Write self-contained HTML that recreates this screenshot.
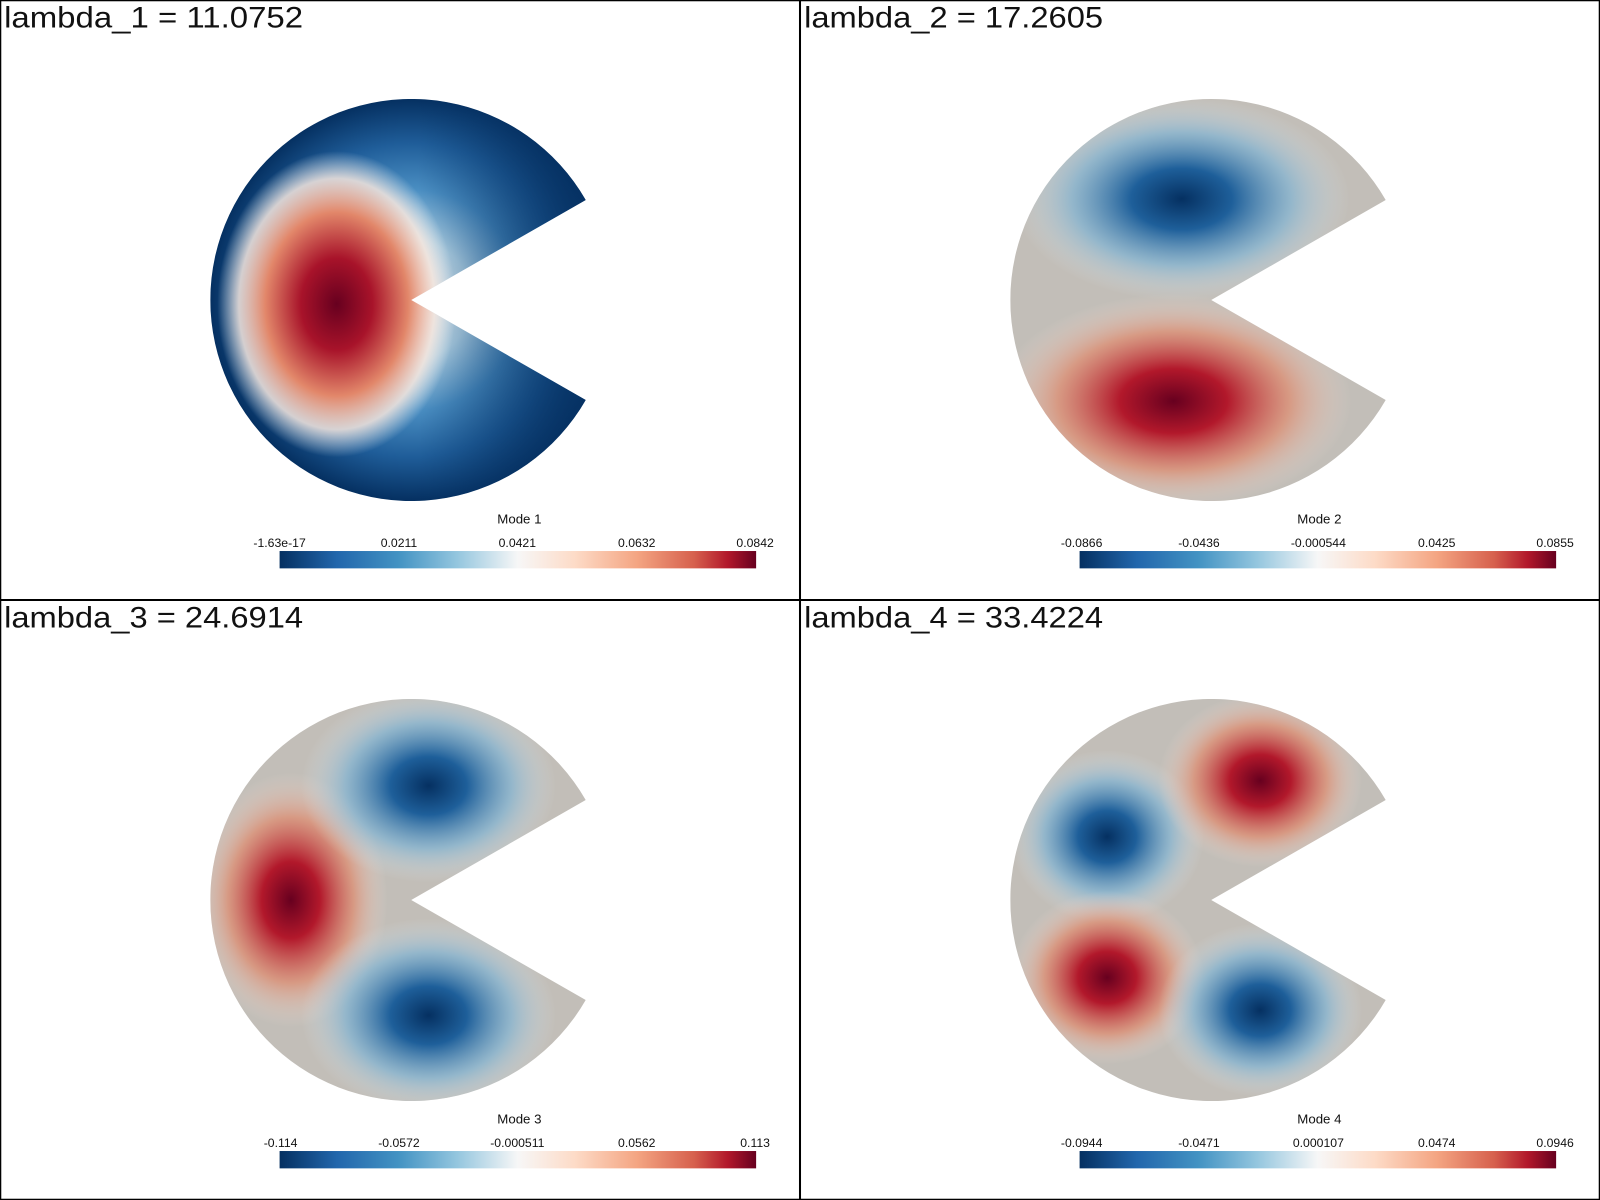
<!DOCTYPE html>
<html><head><style>html,body{margin:0;padding:0;background:#fff}svg{display:block}</style></head><body>
<svg width="1600" height="1200" viewBox="0 0 1568 1176" xmlns="http://www.w3.org/2000/svg" font-family="Liberation Sans, sans-serif">
<defs>
<linearGradient id="cb" x1="0" x2="1" y1="0" y2="0">
<stop offset="0" stop-color="#053061"/><stop offset="0.12" stop-color="#2166ac"/><stop offset="0.25" stop-color="#4393c3"/><stop offset="0.37" stop-color="#92c5de"/><stop offset="0.5" stop-color="#f7f7f7"/><stop offset="0.62" stop-color="#fddbc7"/><stop offset="0.75" stop-color="#f4a582"/><stop offset="0.87" stop-color="#d6604d"/><stop offset="0.94" stop-color="#b2182b"/><stop offset="1" stop-color="#67001f"/>
</linearGradient>
<radialGradient id="m1" gradientUnits="userSpaceOnUse" cx="403" cy="294" r="197">
<stop offset="0" stop-color="#f2f2f2"/><stop offset="0.3" stop-color="#b5d5e6"/><stop offset="0.55" stop-color="#4a8ec2"/><stop offset="0.78" stop-color="#1f5d99"/><stop offset="1" stop-color="#053061"/>
</radialGradient>
<linearGradient id="ov" gradientUnits="userSpaceOnUse" x1="410" y1="0" x2="560" y2="0">
<stop offset="0" stop-color="#0b3a6e" stop-opacity="0"/><stop offset="1" stop-color="#063264" stop-opacity="0.8"/>
</linearGradient>
<radialGradient id="m1r" gradientUnits="userSpaceOnUse" cx="330" cy="298" r="150" gradientTransform="translate(330 298) scale(0.78 1) translate(-330 -298)">
<stop offset="0" stop-color="#67001f"/><stop offset="0.3" stop-color="#a8132a"/><stop offset="0.6" stop-color="#e2876a"/><stop offset="0.82" stop-color="#f6e6dd" stop-opacity="0.85"/><stop offset="1" stop-color="#e8eef2" stop-opacity="0"/>
</radialGradient>
<radialGradient id="red"><stop offset="0" stop-color="#67001f"/><stop offset="0.3" stop-color="#b2182b"/><stop offset="0.65" stop-color="#e08a6d" stop-opacity="0.7"/><stop offset="1" stop-color="#f4e0d6" stop-opacity="0"/></radialGradient>
<radialGradient id="blue"><stop offset="0" stop-color="#053061"/><stop offset="0.3" stop-color="#1e5f9a"/><stop offset="0.65" stop-color="#7fb3d3" stop-opacity="0.7"/><stop offset="1" stop-color="#dde6ec" stop-opacity="0"/></radialGradient>
<clipPath id="c1"><path d="M403 294 L574 196 A197 197 0 1 0 574 392 Z"/></clipPath>
<clipPath id="c2"><path d="M1187 294 L1358 196 A197 197 0 1 0 1358 392 Z"/></clipPath>
<clipPath id="c3"><path d="M403 882 L574 784 A197 197 0 1 0 574 980 Z"/></clipPath>
<clipPath id="c4"><path d="M1187 882 L1358 784 A197 197 0 1 0 1358 980 Z"/></clipPath>
</defs>
<rect width="1568" height="1176" fill="#fff"/>
<g clip-path="url(#c1)"><rect x="200" y="90" width="380" height="410" fill="url(#m1)"/><rect x="200" y="90" width="380" height="410" fill="url(#ov)"/>
<rect x="200" y="90" width="380" height="410" fill="url(#m1r)"/></g>
<g clip-path="url(#c2)"><rect x="985" y="90" width="380" height="410" fill="#c2beb8"/>
<ellipse cx="1158" cy="195" rx="165" ry="100" fill="url(#blue)"/>
<ellipse cx="1150" cy="393" rx="175" ry="105" fill="url(#red)"/></g>
<g clip-path="url(#c3)"><rect x="200" y="680" width="380" height="410" fill="#c2beb8"/>
<ellipse cx="285" cy="882" rx="95" ry="125" fill="url(#red)"/>
<ellipse cx="420" cy="770" rx="125" ry="95" fill="url(#blue)"/>
<ellipse cx="420" cy="995" rx="125" ry="95" fill="url(#blue)"/></g>
<g clip-path="url(#c4)"><rect x="985" y="680" width="380" height="410" fill="#c2beb8"/>
<ellipse cx="1085" cy="820" rx="95" ry="85" fill="url(#blue)"/>
<ellipse cx="1235" cy="765" rx="100" ry="85" fill="url(#red)"/>
<ellipse cx="1085" cy="958" rx="95" ry="85" fill="url(#red)"/>
<ellipse cx="1235" cy="990" rx="100" ry="85" fill="url(#blue)"/></g>
<g font-size="12" fill="#111" text-anchor="middle">
<rect x="274" y="540" width="467" height="17" fill="url(#cb)"/>
<text x="509" y="513" font-size="13">Mode 1</text>
<text x="274" y="536">-1.63e-17</text><text x="391" y="536">0.0211</text><text x="507" y="536">0.0421</text><text x="624" y="536">0.0632</text><text x="740" y="536">0.0842</text>
<rect x="1058" y="540" width="467" height="17" fill="url(#cb)"/>
<text x="1293" y="513" font-size="13">Mode 2</text>
<text x="1060" y="536">-0.0866</text><text x="1175" y="536">-0.0436</text><text x="1292" y="536">-0.000544</text><text x="1408" y="536">0.0425</text><text x="1524" y="536">0.0855</text>
<rect x="274" y="1128" width="467" height="17" fill="url(#cb)"/>
<text x="509" y="1101" font-size="13">Mode 3</text>
<text x="275" y="1124">-0.114</text><text x="391" y="1124">-0.0572</text><text x="507" y="1124">-0.000511</text><text x="624" y="1124">0.0562</text><text x="740" y="1124">0.113</text>
<rect x="1058" y="1128" width="467" height="17" fill="url(#cb)"/>
<text x="1293" y="1101" font-size="13">Mode 4</text>
<text x="1060" y="1124">-0.0944</text><text x="1175" y="1124">-0.0471</text><text x="1292" y="1124">0.000107</text><text x="1408" y="1124">0.0474</text><text x="1524" y="1124">0.0946</text>
</g>
<g font-size="29" fill="#111">
<text x="4" y="27" textLength="293" lengthAdjust="spacingAndGlyphs">lambda_1 = 11.0752</text>
<text x="788" y="27" textLength="293" lengthAdjust="spacingAndGlyphs">lambda_2 = 17.2605</text>
<text x="4" y="615" textLength="293" lengthAdjust="spacingAndGlyphs">lambda_3 = 24.6914</text>
<text x="788" y="615" textLength="293" lengthAdjust="spacingAndGlyphs">lambda_4 = 33.4224</text>
</g>
<rect x="0.5" y="0.5" width="1567" height="1175" fill="none" stroke="#000" stroke-width="1.5"/>
<line x1="784" y1="0" x2="784" y2="1176" stroke="#000" stroke-width="2"/>
<line x1="0" y1="588" x2="1568" y2="588" stroke="#000" stroke-width="2"/>
</svg>
</body></html>
